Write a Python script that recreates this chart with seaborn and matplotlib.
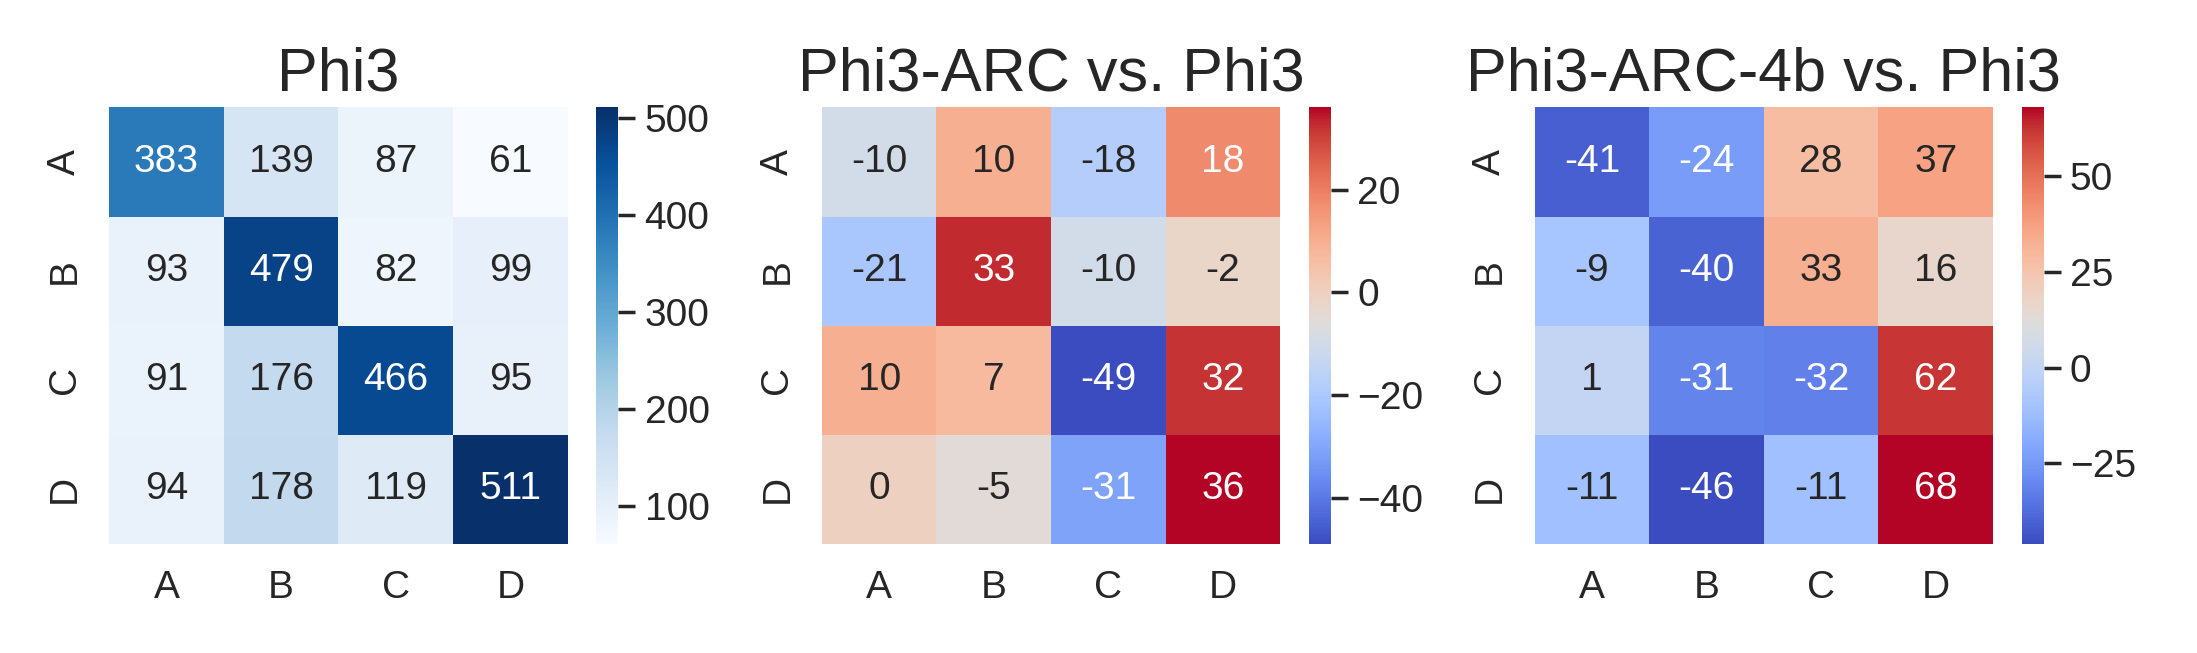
import numpy as np
import matplotlib
matplotlib.use('Agg')
import matplotlib.pyplot as plt
import seaborn as sns

labels = ['A', 'B', 'C', 'D']
titles = ['Phi3', 'Phi3-ARC vs. Phi3', 'Phi3-ARC-4b vs. Phi3']

phi3 = [[383, 139, 87, 61],
        [93, 479, 82, 99],
        [91, 176, 466, 95],
        [94, 178, 119, 511]]
arc_diff = [[-10, 10, -18, 18],
            [-21, 33, -10, -2],
            [10, 7, -49, 32],
            [0, -5, -31, 36]]
arc4b_diff = [[-41, -24, 28, 37],
              [-9, -40, 33, 16],
              [1, -31, -32, 62],
              [-11, -46, -11, 68]]

sns.set_theme(style='white', font_scale=1.3)
plt.rcParams['font.family'] = ['Liberation Sans', 'DejaVu Sans']

fig, axes = plt.subplots(1, 3, figsize=(10.985, 3.265), dpi=200)
mats = [phi3, arc_diff, arc4b_diff]
cmaps = ['Blues', 'coolwarm', 'coolwarm']
for ax, m, cmap, t in zip(axes, mats, cmaps, titles):
    hm = sns.heatmap(np.array(m), annot=True, fmt='d', cmap=cmap, ax=ax,
                     xticklabels=labels, yticklabels=labels,
                     annot_kws={'fontsize': 14})
    ax.set_title(t, fontsize=22)
    ax.tick_params(labelsize=14)
    hm.collections[0].colorbar.ax.tick_params(labelsize=14)

plt.tight_layout(w_pad=0.8)
plt.savefig('out.png', dpi=200)
